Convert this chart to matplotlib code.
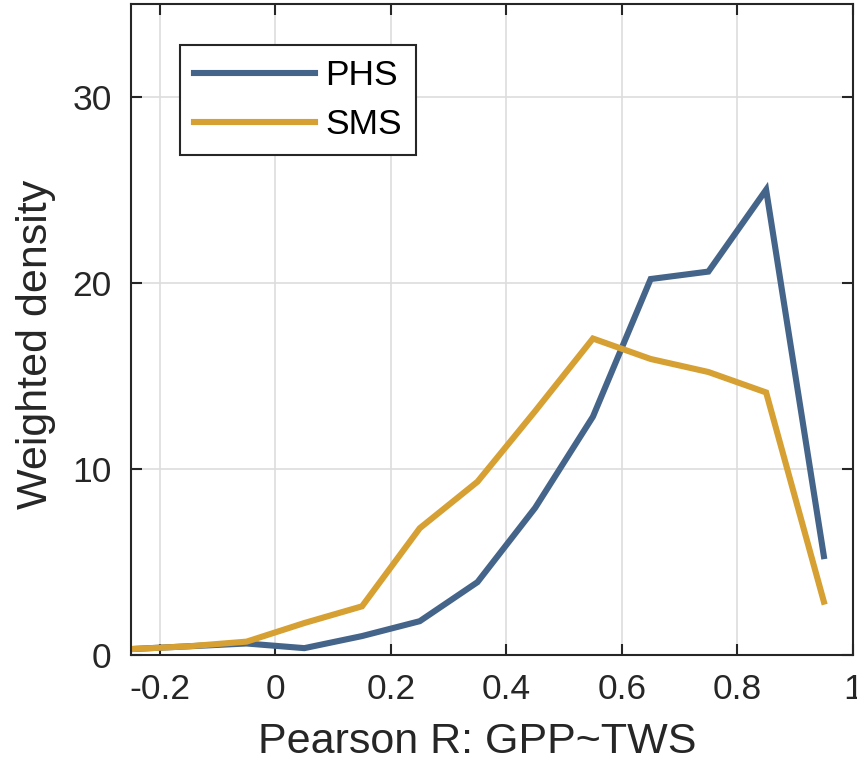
import numpy as np
import matplotlib.pyplot as plt

plt.rcParams['font.family'] = ['Liberation Sans', 'DejaVu Sans']

# bin centres of Pearson R and weighted densities
r_centers = [-0.25, -0.15, -0.05, 0.05, 0.15, 0.25, 0.35, 0.45, 0.55, 0.65, 0.75, 0.85, 0.95]
phs = [0.3, 0.45, 0.6, 0.35, 1.0, 1.8, 3.9, 7.9, 12.8, 20.2, 20.6, 25.0, 5.3]
sms = [0.3, 0.45, 0.7, 1.7, 2.6, 6.8, 9.3, 13.1, 17.0, 15.9, 15.2, 14.1, 2.85]

xticks = [-0.2, 0, 0.2, 0.4, 0.6, 0.8, 1]
xticklabels = ['-0.2', '0', '0.2', '0.4', '0.6', '0.8', '1']
yticks = [0, 10, 20, 30]

blue = '#44648a'
gold = '#d6a032'
dark = '#262626'

fig = plt.figure(figsize=(8.57, 7.63), dpi=100)
ax = fig.add_axes([0.153, 0.142, 0.842, 0.853])

ax.plot(r_centers, phs, color=blue, lw=4.4, label='PHS', solid_joinstyle='miter')
ax.plot(r_centers, sms, color=gold, lw=4.4, label='SMS', solid_joinstyle='miter')

ax.set_xlim(-0.25, 1)
ax.set_ylim(0, 35)
ax.set_xticks(xticks)
ax.set_xticklabels(xticklabels)
ax.set_yticks(yticks)
ax.grid(True, color='#dddddd', lw=1.2)
ax.set_axisbelow(True)

ax.tick_params(direction='in', length=8, width=1.5, top=True, right=True,
               labelsize=25.5, colors=dark)
ax.tick_params(axis='x', pad=13)
ax.tick_params(axis='y', pad=14)
for s in ax.spines.values():
    s.set_color(dark)
    s.set_linewidth(1.5)

ax.set_xlabel('Pearson R: GPP~TWS', fontsize=31, color=dark, labelpad=12)
ax.set_ylabel('Weighted density', fontsize=31, color=dark, labelpad=12)
ax.xaxis.label.set_x(0.48)
ax.yaxis.label.set_y(0.476)

leg = ax.legend(loc='upper left', bbox_to_anchor=(180 / 857, 1 - 45 / 763),
                bbox_transform=fig.transFigure, fontsize=25.5, handlelength=3.4,
                frameon=True, fancybox=False, borderpad=0.4, labelspacing=0.45,
                handletextpad=0.3, borderaxespad=0)
leg.get_frame().set_edgecolor(dark)
leg.get_frame().set_linewidth(1.5)
leg.get_frame().set_alpha(1)

fig.savefig('out.png', dpi=100)
